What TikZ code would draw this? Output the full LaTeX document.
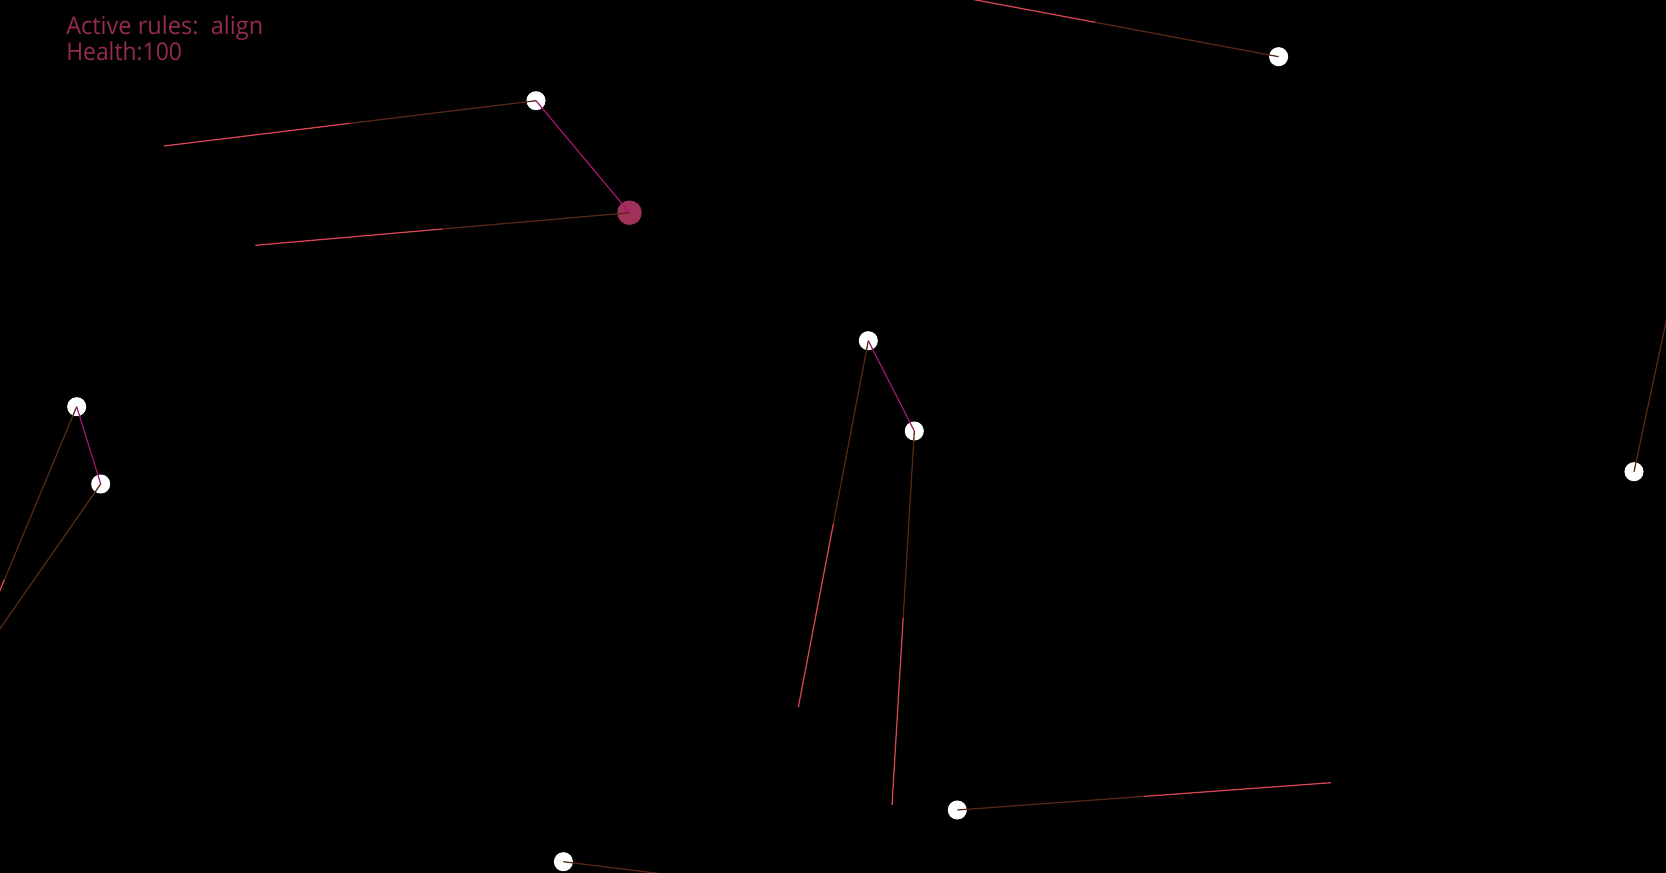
\documentclass[tikz,border=0pt]{standalone}
\usepackage{fontspec}
\setmainfont{Open Sans}
\usetikzlibrary{calc}
\definecolor{txtcol}{HTML}{962A52}
\definecolor{redline}{HTML}{D74650}
\definecolor{brownline}{HTML}{552814}
\definecolor{magline}{HTML}{A5146E}
\definecolor{rednode}{HTML}{A0325A}
\tikzset{
  dot/.style={circle, fill=white, inner sep=0pt, minimum size=14.3pt},
  bigdot/.style={circle, fill=rednode, inner sep=0pt, minimum size=18.4pt},
  nearhalf/.style={draw=brownline, line width=0.95pt},
  farhalf/.style={draw=redline, line width=0.95pt},
  link/.style={draw=magline, line width=0.9pt},
  label/.style={anchor=base west, inner sep=0pt, text=txtcol, font=\fontsize{18.4pt}{22pt}\selectfont}
}
\newcommand{\tail}[2]{%
  \draw[nearhalf] (#1.center) -- ($(#1.center)!0.5!(#2)$);
  \draw[farhalf] ($(#1.center)!0.5!(#2)$) -- (#2);
}
\begin{document}
\begin{tikzpicture}[x=0.75pt,y=-0.75pt]
\useasboundingbox (0,0) rectangle (1666,873);
\fill[black] (0,0) rectangle (1666,873);
\clip (0,0) rectangle (1666,873);
% nodes
\node[dot] (A) at (536,100.7) {};
\node[bigdot] (B) at (629.5,212.7) {};
\node[dot] (C) at (1278.6,56.7) {};
\node[dot] (D) at (76.7,406.7) {};
\node[dot] (E) at (100.7,484) {};
\node[dot] (F) at (868.3,340.7) {};
\node[dot] (G) at (914.3,431) {};
\node[dot] (H) at (957.3,810) {};
\node[dot] (I) at (563.4,861.7) {};
\node[dot] (J) at (1634,471.7) {};
% free ends
\coordinate (a1) at (164,146);
\coordinate (b1) at (255.4,245.3);
\coordinate (c1) at (912,-12);
\coordinate (d1) at (-68,753);
\coordinate (e1) at (-120,801);
\coordinate (f1) at (798.3,707.3);
\coordinate (g1) at (892,805);
\coordinate (h1) at (1331,782.7);
\coordinate (i1) at (813,892.5);
\coordinate (j1) at (1714,97);
% tails
\tail{A}{a1}
\tail{B}{b1}
\tail{C}{c1}
\tail{D}{d1}
\tail{E}{e1}
\tail{F}{f1}
\tail{G}{g1}
\tail{H}{h1}
\tail{I}{i1}
\tail{J}{j1}
% links
\draw[link] (A.center) -- (B.center);
\draw[link] (D.center) -- (E.center);
\draw[link] (F.center) -- (G.center);
% text
\node[label] (t1) at (66,35) {\resizebox{147.75pt}{\height}{Active rules:\ \ align}};
\node[label] (t2) at (66,61) {\resizebox{86.8pt}{\height}{Health:100}};
\end{tikzpicture}
\end{document}
